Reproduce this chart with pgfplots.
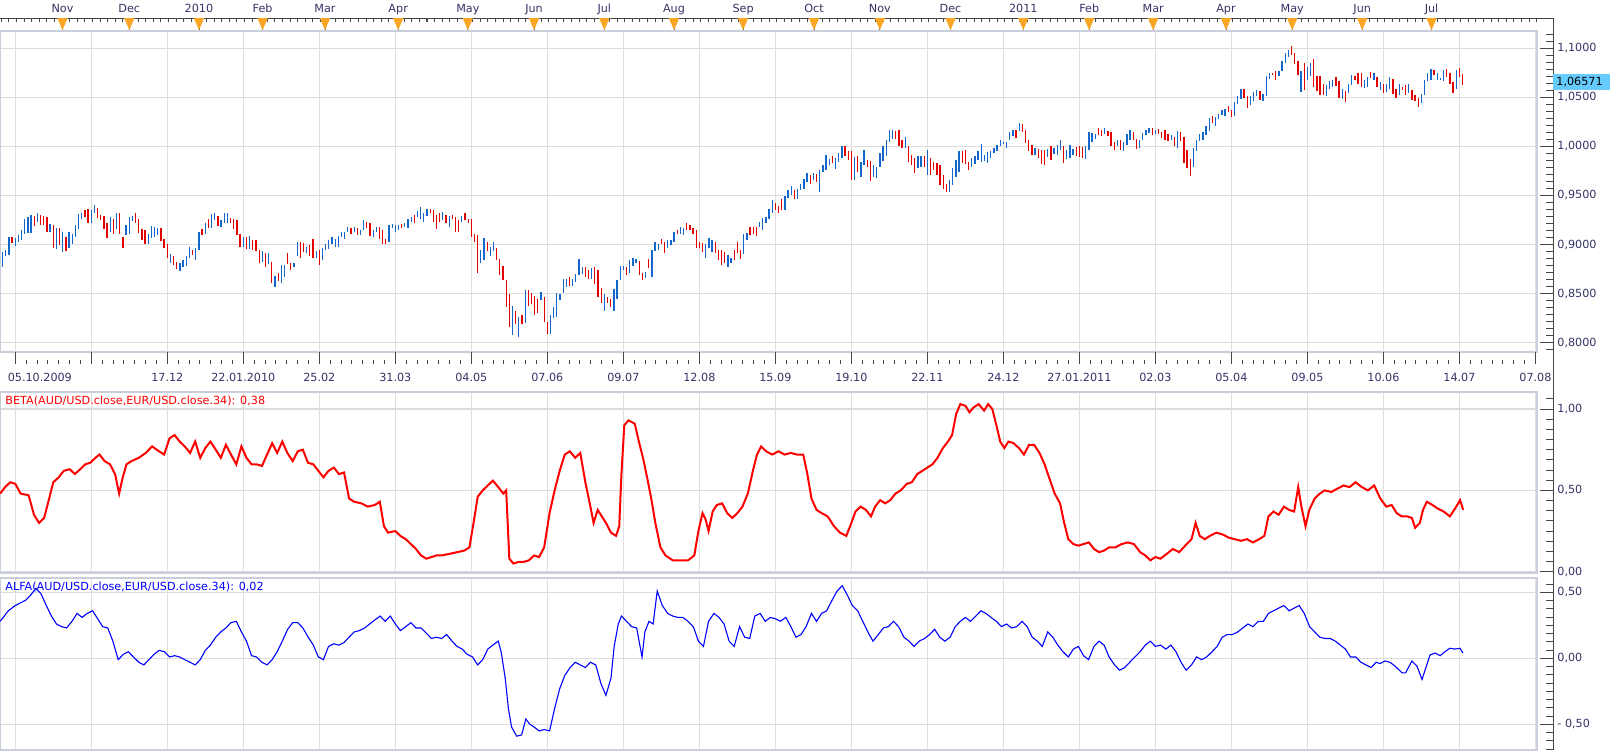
\documentclass[border=0pt]{standalone}
\usepackage{fontspec}
\setmainfont{DejaVu Sans}
\usepackage{pgfplots}
\usepackage{pgfplotstable}
\pgfplotsset{compat=1.18}
\definecolor{txt}{RGB}{51,51,102}
\definecolor{gridc}{RGB}{222,222,222}
\definecolor{framec}{RGB}{200,206,218}
\definecolor{barblue}{RGB}{18,102,204}
\definecolor{barred}{RGB}{226,0,0}
\definecolor{tri}{RGB}{250,165,35}
\definecolor{hl}{RGB}{102,204,255}
\definecolor{axc}{RGB}{70,70,70}

% AUD/USD daily bars: high, low, direction (1 = up/blue, 0 = down/red); first row is bar -4
\pgfplotstableread{
h l d
0.892 0.877 1
0.894 0.888 1
0.908 0.889 1
0.908 0.902 0
0.907 0.899 1
0.910 0.903 1
0.915 0.905 1
0.926 0.911 1
0.928 0.912 1
0.930 0.912 1
0.929 0.919 0
0.932 0.923 1
0.930 0.920 0
0.929 0.920 0
0.928 0.913 0
0.921 0.913 1
0.920 0.896 0
0.917 0.895 1
0.917 0.900 0
0.913 0.892 1
0.908 0.893 0
0.913 0.896 1
0.911 0.901 1
0.920 0.908 1
0.931 0.916 1
0.932 0.926 1
0.935 0.928 0
0.936 0.922 0
0.935 0.922 1
0.940 0.932 1
0.937 0.927 0
0.930 0.925 0
0.929 0.916 0
0.922 0.907 0
0.928 0.913 1
0.926 0.911 0
0.932 0.916 1
0.932 0.911 0
0.908 0.896 0
0.920 0.910 1
0.928 0.911 1
0.929 0.924 1
0.932 0.922 0
0.926 0.912 0
0.916 0.905 0
0.915 0.901 0
0.911 0.901 1
0.919 0.907 1
0.918 0.908 1
0.917 0.910 1
0.917 0.904 0
0.906 0.897 0
0.901 0.886 0
0.890 0.881 1
0.888 0.879 0
0.882 0.875 0
0.881 0.873 1
0.884 0.877 1
0.888 0.878 1
0.898 0.886 1
0.894 0.889 0
0.896 0.884 1
0.913 0.894 1
0.916 0.910 0
0.922 0.911 1
0.926 0.917 0
0.931 0.917 1
0.932 0.925 1
0.929 0.919 0
0.925 0.918 1
0.932 0.922 1
0.932 0.922 1
0.927 0.922 0
0.926 0.916 0
0.925 0.910 0
0.911 0.898 0
0.908 0.898 1
0.908 0.895 0
0.909 0.895 1
0.905 0.894 0
0.905 0.893 0
0.894 0.881 0
0.893 0.882 1
0.891 0.877 0
0.891 0.880 1
0.882 0.861 0
0.868 0.857 1
0.871 0.863 0
0.879 0.861 1
0.879 0.867 1
0.891 0.880 0
0.881 0.874 0
0.881 0.877 1
0.903 0.888 1
0.903 0.886 0
0.902 0.892 0
0.898 0.891 1
0.900 0.888 0
0.906 0.886 0
0.893 0.886 1
0.894 0.879 0
0.896 0.884 1
0.901 0.894 1
0.905 0.895 1
0.908 0.901 1
0.906 0.898 1
0.909 0.897 1
0.913 0.908 1
0.913 0.906 1
0.918 0.913 1
0.917 0.911 0
0.918 0.913 1
0.917 0.910 0
0.915 0.910 1
0.925 0.915 1
0.923 0.917 0
0.922 0.909 0
0.915 0.908 1
0.918 0.913 1
0.918 0.906 0
0.915 0.901 0
0.906 0.901 0
0.920 0.903 1
0.921 0.917 1
0.920 0.913 1
0.920 0.915 1
0.921 0.917 0
0.922 0.918 1
0.926 0.917 1
0.928 0.923 1
0.930 0.922 0
0.934 0.928 1
0.938 0.926 1
0.932 0.923 1
0.936 0.929 1
0.936 0.932 0
0.935 0.923 0
0.930 0.916 0
0.932 0.923 0
0.933 0.925 1
0.930 0.922 0
0.929 0.918 1
0.930 0.926 0
0.928 0.913 0
0.925 0.913 0
0.929 0.923 1
0.932 0.925 0
0.926 0.922 0
0.926 0.908 0
0.911 0.903 0
0.910 0.871 0
0.894 0.881 1
0.907 0.884 1
0.903 0.893 0
0.898 0.888 1
0.903 0.893 1
0.896 0.884 0
0.885 0.869 0
0.878 0.864 0
0.864 0.836 0
0.850 0.816 0
0.837 0.808 1
0.832 0.819 0
0.826 0.806 1
0.828 0.819 0
0.854 0.820 1
0.854 0.837 0
0.851 0.839 0
0.848 0.828 0
0.845 0.830 0
0.852 0.843 1
0.847 0.821 0
0.821 0.809 0
0.828 0.809 1
0.836 0.825 1
0.851 0.826 1
0.850 0.843 1
0.865 0.851 1
0.865 0.857 1
0.867 0.858 0
0.865 0.858 1
0.870 0.862 1
0.885 0.869 1
0.877 0.870 1
0.877 0.867 0
0.874 0.865 0
0.876 0.865 1
0.877 0.860 0
0.874 0.847 0
0.856 0.840 0
0.850 0.832 1
0.847 0.840 0
0.845 0.836 0
0.855 0.832 1
0.864 0.845 1
0.878 0.864 1
0.878 0.874 1
0.877 0.869 0
0.884 0.871 1
0.886 0.878 1
0.885 0.881 1
0.883 0.869 0
0.871 0.864 0
0.872 0.866 1
0.885 0.876 0
0.894 0.867 1
0.903 0.893 1
0.901 0.894 1
0.906 0.901 0
0.903 0.891 0
0.905 0.896 1
0.905 0.900 1
0.913 0.903 1
0.915 0.911 0
0.918 0.911 1
0.917 0.910 1
0.922 0.915 0
0.920 0.915 0
0.917 0.911 0
0.915 0.896 0
0.903 0.896 0
0.902 0.892 0
0.901 0.886 1
0.907 0.896 1
0.905 0.892 1
0.903 0.891 0
0.894 0.884 0
0.894 0.879 0
0.892 0.881 0
0.889 0.877 1
0.886 0.881 1
0.894 0.884 0
0.903 0.891 0
0.894 0.885 0
0.911 0.890 1
0.912 0.905 1
0.918 0.910 0
0.918 0.911 0
0.918 0.909 0
0.923 0.918 1
0.927 0.915 1
0.928 0.922 1
0.936 0.926 1
0.945 0.932 1
0.942 0.935 0
0.939 0.932 0
0.946 0.935 0
0.949 0.935 1
0.956 0.947 1
0.960 0.950 1
0.956 0.946 0
0.957 0.946 1
0.962 0.956 1
0.967 0.957 1
0.973 0.964 1
0.971 0.962 0
0.973 0.966 1
0.972 0.964 0
0.976 0.954 1
0.981 0.974 1
0.991 0.976 1
0.987 0.981 1
0.990 0.983 0
0.988 0.977 1
0.993 0.984 1
1.000 0.988 1
1.000 0.990 0
0.995 0.986 0
0.995 0.966 0
0.989 0.966 1
0.990 0.974 0
0.984 0.969 1
0.996 0.981 1
0.986 0.979 0
0.985 0.965 0
0.981 0.969 1
0.979 0.968 1
0.993 0.979 1
1.000 0.985 1
1.007 0.990 1
1.017 1.004 1
1.017 1.008 1
1.016 1.008 0
1.017 1.000 0
1.007 0.998 0
1.010 0.998 1
1.000 0.984 0
0.991 0.981 0
0.988 0.973 0
0.990 0.978 1
0.990 0.979 1
0.990 0.979 0
0.996 0.971 1
0.988 0.971 0
0.984 0.976 0
0.983 0.971 0
0.981 0.961 0
0.971 0.957 0
0.962 0.954 0
0.966 0.954 1
0.978 0.961 1
0.986 0.969 1
0.995 0.974 1
0.995 0.983 0
0.996 0.982 0
0.984 0.976 0
0.988 0.979 1
0.990 0.982 1
0.995 0.986 1
1.002 0.984 1
0.991 0.985 1
0.994 0.983 1
0.995 0.988 1
0.998 0.993 1
1.001 0.995 1
1.007 1.000 1
1.005 1.002 1
1.005 0.998 1
1.015 1.007 1
1.017 1.011 1
1.017 1.009 0
1.024 1.016 1
1.023 1.015 0
1.017 1.003 0
1.007 0.995 0
1.001 0.991 0
0.998 0.991 1
0.997 0.988 0
0.996 0.982 0
0.996 0.981 0
0.997 0.989 1
1.000 0.986 0
0.998 0.992 1
1.001 0.991 1
1.007 0.996 1
1.000 0.983 0
0.996 0.987 1
1.001 0.988 1
0.997 0.991 1
0.999 0.990 0
1.000 0.989 0
0.999 0.988 0
1.000 0.987 1
1.015 0.996 1
1.014 1.005 1
1.013 1.008 1
1.019 1.012 0
1.017 1.011 0
1.019 1.013 1
1.016 1.011 0
1.015 1.000 0
1.005 0.996 0
1.007 1.000 1
1.007 0.996 0
1.004 0.995 1
1.013 1.001 1
1.017 1.007 1
1.015 1.007 0
1.008 0.997 0
1.007 0.998 1
1.014 1.007 1
1.017 1.012 1
1.019 1.014 1
1.019 1.012 0
1.017 1.013 1
1.018 1.013 0
1.015 1.009 0
1.017 1.007 0
1.013 1.006 0
1.012 1.007 1
1.010 1.000 0
1.016 0.998 1
1.015 1.006 0
1.010 0.983 0
0.996 0.978 0
0.987 0.970 0
0.998 0.979 1
1.007 0.995 1
1.013 1.006 1
1.015 1.007 1
1.021 1.012 1
1.029 1.016 1
1.031 1.024 0
1.030 1.021 1
1.033 1.028 1
1.037 1.032 1
1.038 1.031 1
1.041 1.035 0
1.037 1.030 0
1.045 1.031 1
1.051 1.043 1
1.058 1.048 1
1.058 1.049 0
1.051 1.039 0
1.051 1.042 1
1.055 1.046 1
1.058 1.051 1
1.056 1.047 0
1.053 1.046 1
1.072 1.051 1
1.075 1.069 1
1.075 1.073 0
1.077 1.068 0
1.077 1.072 1
1.087 1.077 1
1.095 1.085 1
1.098 1.091 1
1.102 1.093 0
1.095 1.084 0
1.087 1.073 0
1.077 1.055 1
1.085 1.057 0
1.081 1.068 1
1.085 1.072 1
1.089 1.061 0
1.072 1.056 0
1.072 1.052 0
1.064 1.052 0
1.063 1.051 1
1.067 1.058 1
1.068 1.061 1
1.071 1.062 0
1.067 1.049 0
1.058 1.048 1
1.056 1.045 0
1.064 1.054 1
1.073 1.063 1
1.072 1.068 0
1.075 1.064 0
1.075 1.061 0
1.068 1.060 1
1.071 1.061 1
1.076 1.070 0
1.075 1.068 1
1.071 1.061 0
1.066 1.057 1
1.064 1.054 0
1.064 1.055 1
1.071 1.058 1
1.069 1.053 0
1.058 1.049 0
1.064 1.052 1
1.061 1.057 0
1.063 1.052 0
1.064 1.054 1
1.058 1.047 0
1.052 1.046 0
1.049 1.040 0
1.053 1.044 1
1.068 1.052 1
1.075 1.067 1
1.079 1.068 1
1.078 1.073 0
1.075 1.068 1
1.070 1.068 1
1.078 1.067 1
1.079 1.071 0
1.075 1.064 0
1.066 1.054 0
1.078 1.059 1
1.080 1.071 0
1.074 1.063 0
}\ohlc

\begin{document}
\begin{tikzpicture}[font=\fontsize{5.6}{6.7}\selectfont]
\useasboundingbox (0,0) rectangle (805pt,-375pt);
\pgfplotsset{
  every tick label/.append style={font=\fontsize{5.6}{6.7}\selectfont},
  panel/.style={scale only axis, width=768.5pt, xmin=-4.83, xmax=480.5, anchor=north west,
    axis line style={framec, line width=0.9pt}, grid=major, grid style={gridc, line width=0.7pt},
    xtick={0,24,...,480}, xticklabels={}, yticklabels={}, tick style={draw=none}},
  rax/.style={scale only axis, width=8pt, xmin=0, xmax=1, anchor=north west,
    axis x line=none, axis y line=right, y axis line style={axc,-,line width=0.5pt},
    tick align=inside, major tick length=6.5pt, minor tick length=3.5pt,
    tick style={axc, line width=0.5pt}, yticklabel style={text=txt, anchor=west, inner sep=2pt}},
}
% right axis line and top line
\draw[axc, line width=0.5pt] (0pt,-9.25pt) -- (776.5pt,-9.25pt) -- (776.5pt,-375pt);

% top month strip
\begin{axis}[scale only axis, width=768.5pt, height=6.25pt, at={(0pt,-9.25pt)}, anchor=north west,
  xmin=-4.83, xmax=480.5, ymin=0, ymax=1, axis x line=top, axis y line=none,
  x axis line style={axc,-,line width=0.5pt}, tick align=inside,
  xtick={14.9,36.0,58.0,78.1,97.8,120.9,142.9,163.8,186.0,208.0,229.8,252.2,273.0,295.3,318.3,339.1,359.3,382.3,403.2,425.3,447.2},
  xticklabels={Nov,Dec,2010,Feb,Mar,Apr,May,Jun,Jul,Aug,Sep,Oct,Nov,Dec,2011,Feb,Mar,Apr,May,Jun,Jul},
  major tick length=0pt, minor xtick={-4.4,-2.0,...,482}, minor tick length=1.6pt,
  tick style={axc, line width=0.5pt}, xticklabel style={text=txt, anchor=base, yshift=3.25pt}, clip=false]
\addplot[only marks, mark=triangle*, mark size=3.55pt, mark options={rotate=180, xscale=0.74, fill=tri, draw=tri}]
 coordinates {(14.9,0.72)(36.0,0.72)(58.0,0.72)(78.1,0.72)(97.8,0.72)(120.9,0.72)(142.9,0.72)(163.8,0.72)(186.0,0.72)(208.0,0.72)(229.8,0.72)(252.2,0.72)(273.0,0.72)(295.3,0.72)(318.3,0.72)(339.1,0.72)(359.3,0.72)(382.3,0.72)(403.2,0.72)(425.3,0.72)(447.2,0.72)};
\addplot[ycomb, axc, line width=0.4pt]
 coordinates {(14.9,1)(36.0,1)(58.0,1)(78.1,1)(97.8,1)(120.9,1)(142.9,1)(163.8,1)(186.0,1)(208.0,1)(229.8,1)(252.2,1)(273.0,1)(295.3,1)(318.3,1)(339.1,1)(359.3,1)(382.3,1)(403.2,1)(425.3,1)(447.2,1)};
\end{axis}

% price panel
\begin{axis}[panel, at={(0pt,-15.5pt)}, height=160.5pt, ymin=0.7905, ymax=1.1176,
  ytick={0.80,0.85,0.90,0.95,1.00,1.05,1.10}]
\addplot[draw=none, mark=none, error bars/.cd, y dir=both, y explicit, error mark=none,
  error bar style={draw=barblue, line width=0.65pt, solid}]
  table[x expr=\coordindex-4, y expr={(\thisrow{h}+\thisrow{l})/2}, y error expr={(\thisrow{h}-\thisrow{l})/2},
  restrict expr to domain={\thisrow{d}}{0.5:1.5}] {\ohlc};
\addplot[draw=none, mark=none, error bars/.cd, y dir=both, y explicit, error mark=none,
  error bar style={draw=barred, line width=0.65pt, solid}]
  table[x expr=\coordindex-4, y expr={(\thisrow{h}+\thisrow{l})/2}, y error expr={(\thisrow{h}-\thisrow{l})/2},
  restrict expr to domain={\thisrow{d}}{-0.5:0.5}] {\ohlc};
\end{axis}
\begin{axis}[rax, at={(768.5pt,-15.5pt)}, height=160.5pt, ymin=0.7905, ymax=1.1176,
  ytick={0.80,0.85,0.90,0.95,1.00,1.05,1.10},
  yticklabels={{0,8000},{0,8500},{0,9000},{0,9500},{1,0000},{1,0500},{1,1000}},
  minor ytick={0.79286,0.8,...,1.116},
  extra y ticks={1.06571}, extra y tick labels={1{,}06571},
  extra y tick style={major tick length=0pt, yticklabel style={fill=hl, text=black, inner sep=1.5pt, text width=25.5pt, minimum height=7.5pt}}]
\end{axis}

% date strip
\begin{axis}[scale only axis, width=768.5pt, height=6pt, at={(0pt,-176pt)}, anchor=north west,
  xmin=-4.83, xmax=480.5, ymin=0, ymax=1, axis x line=bottom, axis y line=none,
  x axis line style={draw=none}, tick align=inside, major tick length=6pt, minor tick length=2pt,
  xtick={0,24,...,480}, minor tick num=6, tick style={axc, line width=0.5pt},
  xticklabels={,,17.12,22.01.2010,25.02,31.03,04.05,07.06,09.07,12.08,15.09,19.10,22.11,24.12,27.01.2011,02.03,05.04,09.05,10.06,14.07,07.08},
  xticklabel style={text=txt, anchor=base, yshift=-8.5pt},
  extra x ticks={0}, extra x tick labels={05.10.2009},
  extra x tick style={major tick length=0pt, xticklabel style={anchor=base west, xshift=-7.3pt}}, clip=false]
\end{axis}

% BETA panel
\begin{axis}[panel, at={(0pt,-196pt)}, height=90.5pt, ymin=-0.008, ymax=1.1045, ytick={0,0.5,1}]
\addplot[color=red, line width=1pt] coordinates {
(-4.8,0.48)(-3.2,0.52)(-1.6,0.55)(0,0.54)(1.7,0.48)(4.2,0.47)(5.9,0.35)(7.5,0.30)(9.1,0.33)(10.7,0.45)(12,0.55)(13.7,0.58)(15.3,0.62)(17.2,0.63)(18.8,0.60)(20.5,0.63)(22.1,0.66)(23.7,0.67)(25.3,0.70)(26.6,0.72)(28.2,0.68)(29.9,0.66)(31.5,0.60)(32.8,0.48)(33.8,0.57)(35.1,0.66)(36.7,0.68)(39,0.70)(41.2,0.73)(43.2,0.77)(45.4,0.74)(47,0.72)(48.7,0.82)(50.3,0.84)(51.9,0.80)(53.5,0.77)(55.2,0.73)(56.8,0.80)(58.4,0.70)(60,0.76)(61.6,0.80)(63.3,0.75)(64.9,0.70)(66.5,0.78)(68.1,0.72)(69.8,0.66)(71.4,0.77)(73,0.70)(74.6,0.66)(76.2,0.66)(77.9,0.65)(79.5,0.72)(81.1,0.79)(82.7,0.73)(84.3,0.80)(85.9,0.73)(87.6,0.68)(89.2,0.74)(90.8,0.75)(92.4,0.67)(94.1,0.66)(95.7,0.62)(97.3,0.58)(98.9,0.62)(100.6,0.64)(102.2,0.60)(103.8,0.61)(105.4,0.45)(107,0.43)(109.3,0.42)(111.3,0.40)(113.5,0.41)(115.1,0.43)(116.4,0.28)(117.7,0.24)(120,0.25)(121.6,0.22)(123.3,0.20)(124.9,0.17)(126.5,0.14)(128.1,0.10)(129.8,0.08)(131.4,0.09)(133,0.10)(134.6,0.10)(137.2,0.11)(139.5,0.12)(141.8,0.13)(143.4,0.15)(144.7,0.30)(146,0.46)(147.6,0.50)(149.2,0.53)(150.8,0.56)(152.5,0.52)(154.1,0.48)(155,0.50)(156,0.08)(157.3,0.05)(158.9,0.06)(160.5,0.06)(162.2,0.07)(163.8,0.10)(165.4,0.09)(167,0.15)(168.7,0.36)(170.3,0.50)(171.9,0.62)(173.5,0.72)(175.1,0.74)(176.8,0.70)(178.4,0.73)(180,0.55)(181.6,0.40)(182.6,0.30)(183.9,0.38)(185.2,0.34)(186.5,0.30)(188.1,0.24)(189.7,0.22)(190.7,0.28)(191.4,0.60)(192.3,0.90)(193.6,0.93)(195.6,0.91)(196.9,0.80)(198.2,0.70)(199.5,0.58)(200.8,0.45)(202.1,0.30)(203.7,0.15)(205.3,0.10)(207.6,0.07)(209.9,0.07)(212.4,0.07)(214.4,0.10)(215.7,0.25)(217,0.36)(218,0.32)(218.9,0.25)(220.2,0.37)(221.5,0.41)(223.2,0.42)(224.8,0.36)(226.4,0.33)(228,0.36)(229.6,0.40)(231.3,0.48)(232.9,0.62)(234.2,0.72)(235.5,0.77)(237.1,0.74)(239,0.72)(241,0.74)(242.9,0.72)(244.9,0.73)(246.8,0.72)(248.8,0.72)(250.1,0.60)(251.4,0.45)(253,0.38)(254.6,0.36)(256.5,0.34)(258.5,0.28)(260.4,0.24)(262.4,0.22)(264,0.30)(265.3,0.37)(266.9,0.40)(268.6,0.38)(270.2,0.34)(271.5,0.40)(273.1,0.44)(274.7,0.42)(276.3,0.44)(277.9,0.48)(279.6,0.50)(281.5,0.54)(283.1,0.55)(284.8,0.60)(286.4,0.62)(288,0.64)(289.6,0.66)(291.2,0.70)(292.9,0.76)(294.5,0.80)(295.8,0.84)(297.1,0.97)(298.4,1.03)(300,1.02)(301.3,0.98)(302.6,1.01)(304.2,1.03)(305.9,0.99)(307.2,1.03)(308.5,1.00)(309.8,0.90)(311,0.80)(312.3,0.76)(313.6,0.80)(315.2,0.79)(316.9,0.76)(318.5,0.72)(320.1,0.78)(321.7,0.78)(323.4,0.73)(325,0.66)(326.6,0.57)(328.2,0.48)(329.9,0.42)(331.2,0.30)(332.5,0.20)(334.1,0.17)(335.7,0.16)(337.3,0.17)(339,0.18)(340.6,0.14)(342.2,0.12)(343.8,0.13)(345.4,0.15)(347.4,0.15)(349.3,0.17)(351.3,0.18)(353.2,0.17)(355.2,0.12)(356.8,0.10)(358.4,0.07)(360,0.09)(361.6,0.08)(363.6,0.11)(365.5,0.14)(367.5,0.12)(369.4,0.16)(371.4,0.20)(372.7,0.30)(374,0.22)(375.6,0.20)(377.2,0.22)(379.2,0.24)(381.1,0.23)(383.1,0.21)(385,0.20)(387,0.19)(388.9,0.20)(390.8,0.18)(392.8,0.20)(394.4,0.22)(395.7,0.34)(397.3,0.37)(398.9,0.35)(400.6,0.40)(402.2,0.38)(403.8,0.37)(405.1,0.52)(406.1,0.40)(407.4,0.28)(408.6,0.38)(410.3,0.45)(411.9,0.48)(413.5,0.50)(415.5,0.49)(417.4,0.51)(419.4,0.53)(421.3,0.52)(423.2,0.55)(425.2,0.52)(427.1,0.50)(429.1,0.53)(431,0.45)(432.9,0.40)(434.6,0.41)(436.2,0.36)(437.8,0.34)(439.5,0.34)(441,0.33)(442,0.27)(443.5,0.30)(444.5,0.38)(445.7,0.43)(447.5,0.41)(449,0.39)(451,0.37)(453,0.34)(455,0.40)(456.2,0.44)(457.2,0.38)};
\node[anchor=west, text=red, inner sep=0pt, xshift=2.5pt, yshift=-4.5pt] at (rel axis cs:0,1) {BETA(AUD/USD.close,EUR/USD.close.34): 0,38};
\end{axis}
\begin{axis}[rax, at={(768.5pt,-196pt)}, height=90.5pt, ymin=-0.008, ymax=1.1045,
  ytick={0,0.5,1}, yticklabels={{0,00},{0,50},{1,00}}, minor ytick={0,0.0625,...,1.07}]
\end{axis}

% ALFA panel
\begin{axis}[panel, at={(0pt,-289pt)}, height=86pt, ymin=-0.6947, ymax=0.6083, ytick={-0.5,0,0.5}]
\addplot[color=blue, line width=0.55pt] coordinates {
(-4.8,0.28)(-2.2,0.36)(0,0.40)(3.3,0.44)(4.9,0.48)(6.5,0.53)(8.1,0.49)(9.8,0.40)(11.4,0.32)(13,0.26)(14.6,0.24)(16.2,0.23)(17.9,0.28)(19.5,0.34)(21.1,0.31)(22.7,0.34)(24.4,0.36)(26,0.30)(27.6,0.24)(29.2,0.23)(30.8,0.13)(32.5,-0.01)(34.1,0.03)(35.7,0.05)(37.3,0.01)(39,-0.03)(40.6,-0.05)(42.2,-0.01)(43.8,0.03)(45.4,0.06)(47.1,0.05)(48.7,0.01)(50.3,0.02)(51.9,0.01)(53.5,-0.01)(55.2,-0.03)(56.8,-0.05)(58.4,-0.01)(60,0.06)(61.6,0.10)(63.3,0.16)(64.9,0.20)(66.5,0.23)(68.1,0.27)(69.8,0.28)(71.4,0.20)(73,0.13)(74.6,0.02)(76.2,0.01)(77.9,-0.03)(79.5,-0.05)(81.1,-0.01)(82.7,0.05)(84.3,0.13)(86,0.22)(87.6,0.27)(89.2,0.27)(90.8,0.23)(92.5,0.16)(94.1,0.10)(95.7,0.01)(97.3,-0.01)(98.9,0.09)(100.6,0.11)(102.2,0.10)(103.8,0.12)(105.4,0.16)(107,0.20)(108.7,0.21)(110.3,0.23)(111.9,0.26)(113.5,0.29)(115.2,0.32)(116.8,0.28)(118.4,0.32)(120,0.26)(121.6,0.21)(123.3,0.24)(124.9,0.27)(126.5,0.23)(128.1,0.23)(129.8,0.19)(131.4,0.15)(133,0.16)(134.6,0.15)(136.2,0.18)(137.9,0.13)(139.5,0.09)(141.1,0.07)(142.7,0.03)(144.4,0.01)(146,-0.05)(147.6,-0.01)(149.2,0.07)(150.8,0.10)(152.5,0.13)(153.4,0.05)(154.7,-0.15)(155.7,-0.38)(156.7,-0.52)(158.3,-0.59)(159.9,-0.58)(161.2,-0.46)(162.5,-0.50)(163.8,-0.52)(165.4,-0.55)(167,-0.54)(168.7,-0.55)(170.3,-0.38)(171.9,-0.23)(173.5,-0.13)(175.2,-0.07)(176.8,-0.03)(178.4,-0.05)(180,-0.07)(181.6,-0.03)(183.3,-0.05)(184.9,-0.19)(186.5,-0.28)(188.1,-0.15)(189.1,0.09)(190.4,0.26)(191.4,0.32)(193,0.28)(194.6,0.24)(196.2,0.23)(197.9,0.01)(198.8,0.20)(200.1,0.28)(201.4,0.26)(202.7,0.51)(204.3,0.40)(206,0.34)(207.6,0.32)(209.2,0.31)(210.8,0.31)(212.4,0.28)(214.1,0.24)(215.7,0.13)(217.3,0.09)(218.9,0.28)(220.6,0.34)(222.2,0.31)(223.8,0.26)(225.4,0.13)(227,0.09)(228.7,0.24)(230.3,0.16)(231.9,0.15)(233.5,0.32)(235.2,0.34)(236.8,0.28)(238.4,0.31)(240,0.30)(241.6,0.28)(243.3,0.31)(244.9,0.24)(246.5,0.16)(248.1,0.18)(249.7,0.24)(251.4,0.34)(253,0.28)(254.6,0.34)(256.2,0.36)(257.9,0.44)(259.5,0.51)(261.1,0.55)(262.7,0.48)(264.3,0.40)(266,0.36)(267.6,0.28)(269.2,0.20)(270.8,0.13)(272.5,0.18)(274.1,0.23)(275.7,0.24)(277.3,0.28)(278.9,0.24)(280.6,0.16)(282.2,0.13)(283.8,0.09)(285.4,0.13)(287.1,0.15)(288.7,0.18)(290.3,0.22)(291.9,0.16)(293.5,0.13)(295.2,0.16)(296.8,0.24)(298.4,0.28)(300,0.31)(301.6,0.28)(303.3,0.32)(304.9,0.36)(306.5,0.34)(308.1,0.31)(309.8,0.28)(311.4,0.24)(313,0.26)(314.6,0.23)(316.2,0.24)(317.9,0.28)(319.5,0.24)(321.1,0.16)(322.7,0.13)(324.3,0.09)(326,0.20)(327.6,0.16)(329.2,0.10)(330.8,0.05)(332.5,0.01)(334.1,0.07)(335.7,0.09)(337.3,0.02)(338.9,-0.01)(340.6,0.09)(342.2,0.13)(343.8,0.10)(345.4,0.01)(347.1,-0.05)(348.7,-0.09)(350.3,-0.07)(351.9,-0.03)(353.5,0.01)(355.2,0.05)(356.8,0.10)(358.4,0.13)(360,0.09)(361.6,0.10)(363.3,0.07)(364.9,0.10)(366.5,0.05)(368.1,-0.03)(369.7,-0.09)(371.4,-0.05)(373,0.01)(374.6,-0.01)(376.2,0.01)(377.9,0.05)(379.5,0.09)(381.1,0.16)(382.7,0.18)(384.3,0.18)(386,0.20)(387.6,0.23)(389.2,0.26)(390.8,0.24)(392.5,0.28)(394.1,0.28)(395.7,0.34)(397.3,0.36)(398.9,0.38)(400.6,0.40)(402.2,0.36)(403.8,0.38)(405.4,0.40)(407,0.34)(408.7,0.24)(410.3,0.20)(411.9,0.16)(413.5,0.15)(415.2,0.15)(416.8,0.13)(418.4,0.10)(420,0.07)(421.6,0.01)(423.3,0.01)(424.9,-0.03)(426.5,-0.05)(428.1,-0.07)(429.7,-0.03)(430.9,-0.04)(432.5,-0.02)(434.1,-0.03)(435.7,-0.06)(437.9,-0.11)(439,-0.11)(441,-0.02)(442.6,-0.06)(444.2,-0.16)(446.7,0.025)(448.3,0.04)(449.9,0.02)(451.4,0.05)(453,0.076)(454.6,0.07)(456.2,0.076)(457.1,0.04)};
\node[anchor=west, text=blue, inner sep=0pt, xshift=2.5pt, yshift=-4.5pt] at (rel axis cs:0,1) {ALFA(AUD/USD.close,EUR/USD.close.34): 0,02};
\end{axis}
\begin{axis}[rax, at={(768.5pt,-289pt)}, height=86pt, ymin=-0.6947, ymax=0.6083,
  ytick={-0.5,0,0.5}, yticklabels={{- 0,50},{0,00},{0,50}}, minor ytick={-0.6875,-0.625,...,0.57}]
\end{axis}
\end{tikzpicture}
\end{document}
